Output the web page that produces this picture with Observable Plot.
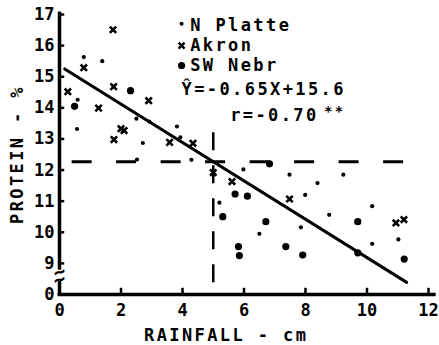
<!DOCTYPE html>
<html><head><meta charset="utf-8">
<script src="https://cdn.jsdelivr.net/npm/d3@7"></script>
<script src="https://cdn.jsdelivr.net/npm/@observablehq/plot@0.6"></script>
<style>
body{margin:0;background:#fff;}
#chart{width:439px;height:345px;}
</style>
</head><body><div id="chart"></div>
<script>
// ---- data ----
const nPlatteX = [0.79,1.39,0.59,2.50,2.92,0.57,2.71,3.82,3.93,2.52,4.29,5.98,7.48,9.23,8.39,7.99,5.20,8.77,10.17,7.85,6.50,10.17,11.02];
const nPlatteY = [15.63,15.50,14.26,13.65,13.56,13.32,12.87,13.40,13.05,12.34,12.33,12.02,11.85,11.85,11.58,11.20,10.95,10.56,10.84,10.16,9.95,9.63,9.77];
const akronX = [1.74,0.79,0.27,1.76,2.90,1.27,2.00,2.10,1.77,3.58,4.34,5.00,5.61,7.48,10.94,11.20];
const akronY = [16.51,15.29,14.52,14.68,14.23,13.99,13.33,13.27,12.98,12.89,12.86,11.92,11.63,11.07,10.30,10.41];
const swNebrX = [2.31,0.49,6.83,5.71,6.11,5.31,6.71,9.70,5.82,5.85,7.36,7.91,9.70,11.21];
const swNebrY = [14.55,14.05,12.20,11.23,11.16,10.50,10.34,10.34,9.54,9.25,9.54,9.27,9.34,9.14];
const seriesNames = ["N Platte","Akron","SW Nebr"];
const regLineX = [0.17, 11.29];
const regLineY = [15.25, 8.39];
const equationText = "Ŷ=-0.65X+15.6";
const rText = "r=-0.70";
const rStars = "**";
const critProtein = 12.27, critProteinFrom = 0.41, critProteinTo = 11.29;
const critRain = 5, critRainFrom = 8.2, critRainTo = 13.2;
const xTicks = [0,2,4,6,8,10,12];
const yTicks = [9,10,11,12,13,14,15,16,17];
const yBreakTick = 8;            // drawn as "0" below the axis break
const yBreakLabel = "0";
const xTitle = "RAINFALL - cm";
const yTitle = "PROTEIN - %";

// ---- tables built from the arrays ----
const pts = [
  ...nPlatteX.map((x,i)=>({x, y:nPlatteY[i], s:seriesNames[0]})),
  ...akronX.map((x,i)=>({x, y:akronY[i], s:seriesNames[1]})),
  ...swNebrX.map((x,i)=>({x, y:swNebrY[i], s:seriesNames[2]}))
];
const reg = regLineX.map((x,i)=>({x, y:regLineY[i]}));
// legend anchor positions (annotation placement in data units)
const legX = 3.97, legTextX = 4.25;
const legSymY = [16.70, 16.00, 15.36];
const legTextY = [16.466, 15.823, 15.183];
const legend = seriesNames.map((s,i)=>({s, x:legX, y:legSymY[i], tx:legTextX, ty:legTextY[i]}));

const bySeries = s => pts.filter(d=>d.s===s);
const font = "DejaVu Sans Mono";

const chart = Plot.plot({
  width: 439, height: 345,
  marginLeft: 59, marginRight: 11, marginTop: 14, marginBottom: 51,
  style: {fontFamily: font, fontWeight: "bold", fontSize: "17px", background: "#fff", color: "#000", overflow: "visible"},
  x: {domain: [0, 12]},
  y: {domain: [8, 17]},
  marks: [
    // axes lines
    Plot.ruleX([0], {y1: 17.08, y2: 8.78, strokeWidth: 3.5}),
    Plot.ruleX([0], {y1: 8.42, y2: 8, strokeWidth: 3.5}),
    Plot.ruleY([8], {x1: -0.05, x2: 12.25, strokeWidth: 3.5}),
    Plot.text(["~","~"], {x: [0,0], y: [8.72, 8.48], text: d=>d, fontSize: 20, rotate: -20}),
    // inward ticks
    Plot.ruleX(xTicks, {x: d=>d, y1: 8, y2: 8.2, strokeWidth: 2.5}),
    Plot.ruleY(yTicks, {y: d=>d, x1: 0, x2: 0.17, strokeWidth: 2.5}),
    // tick labels
    Plot.axisX(xTicks, {tickSize: 0, tickPadding: 9, fontSize: 17, label: null}),
    Plot.axisY([yBreakTick, ...yTicks], {tickSize: 0, tickPadding: 5, fontSize: 17, label: null,
      tickFormat: d => d === yBreakTick ? yBreakLabel : String(d)}),
    // criterion lines
    Plot.ruleY([critProtein], {x1: critProteinFrom, x2: critProteinTo, strokeWidth: 3, strokeDasharray: "20,24.5"}),
    Plot.ruleX([critRain], {y1: critRainTo, y2: critRainFrom, strokeWidth: 2.5, strokeDasharray: "18,15"}),
    // regression line
    Plot.line(reg, {x: "x", y: "y", strokeWidth: 3}),
    // data points
    Plot.dot(bySeries("N Platte"), {x: "x", y: "y", r: 2.1, fill: "#000"}),
    Plot.dot(bySeries("Akron"), {x: "x", y: "y", symbol: "times", r: 3, stroke: "#000", strokeWidth: 2.6}),
    Plot.dot(bySeries("SW Nebr"), {x: "x", y: "y", r: 3.6, fill: "#000"}),
    // legend symbols
    Plot.dot(legend.filter(d=>d.s==="N Platte"), {x: "x", y: "y", r: 2, fill: "#000"}),
    Plot.dot(legend.filter(d=>d.s==="Akron"), {x: "x", y: "y", symbol: "times", r: 2.8, stroke: "#000", strokeWidth: 2.4}),
    Plot.dot(legend.filter(d=>d.s==="SW Nebr"), {x: "x", y: "y", r: 3.6, fill: "#000"}),
    // legend / annotation text
    Plot.text(legend, {x: "tx", y: "ty", text: "s", textAnchor: "start", lineAnchor: "bottom", fontSize: 17}),
    Plot.text([equationText], {x: 3.97, y: 14.40, text: d=>d, textAnchor: "start", lineAnchor: "bottom", fontSize: 17}),
    Plot.text([rText], {x: 5.55, y: 13.57, text: d=>d, textAnchor: "start", lineAnchor: "bottom", fontSize: 17}),
    Plot.text([rStars], {x: 8.6, y: 13.74, text: d=>d, textAnchor: "start", lineAnchor: "bottom", fontSize: 14, fill: "#000"}),
    // axis titles
    Plot.text([xTitle], {x: 5.42, y: 6.49, text: d=>d, lineAnchor: "bottom", fontSize: 17}),
    Plot.text([yTitle], {x: -1.36, y: 12.5, text: d=>d, rotate: -90, lineAnchor: "middle", fontSize: 17})
  ]
});
// wide lettering for the annotation texts (not the tick labels)
chart.querySelectorAll("text").forEach(t => {
  const axisGroup = t.closest('g[aria-label*="tick label"]');
  if (!axisGroup && t.textContent.length > 1) t.style.letterSpacing = "2.4px";
});
document.getElementById("chart").appendChild(chart);
</script>
</body></html>
